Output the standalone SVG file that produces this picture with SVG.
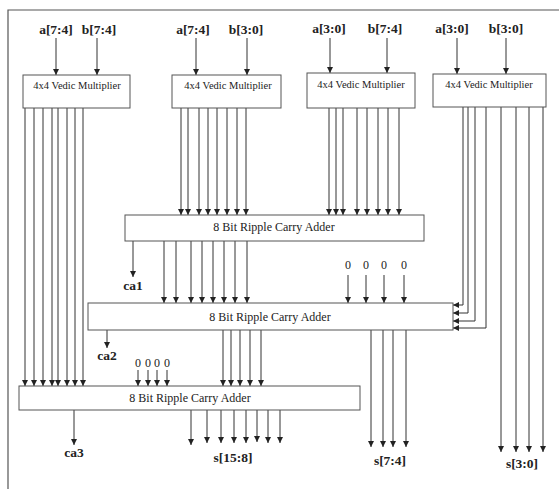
<svg xmlns="http://www.w3.org/2000/svg" width="559" height="489" viewBox="0 0 559 489">
<defs>
<marker id="ah" viewBox="0 0 6 6" refX="6" refY="3" markerWidth="6" markerHeight="6" markerUnits="userSpaceOnUse" orient="auto">
<path d="M0,0 L6,3 L0,6 Z" fill="#222"/>
</marker>
<style>
.box{fill:#fff;stroke:#555;stroke-width:1}
.w{fill:none;stroke:#333;stroke-width:1}
.a{fill:none;stroke:#333;stroke-width:1;marker-end:url(#ah)}
text{font-family:'Liberation Serif','DejaVu Serif','Times New Roman',serif;fill:#222;text-anchor:middle}
.lb{font-size:13.5px;font-weight:bold}
.mt{font-size:10.5px}
.at{font-size:12px}
.z{font-size:12px}
</style>
</defs>
<rect width="559" height="489" fill="#fff"/>
<path d="M8,489 V10 H559" fill="none" stroke="#555" stroke-width="1.2"/>

<g id="connectors">
<path class="a" d="M56,38 V75"/><path class="a" d="M97,38 V75"/>
<path class="a" d="M196,38 V75"/><path class="a" d="M247,38 V75"/>
<path class="a" d="M330,38 V73"/><path class="a" d="M387,38 V73"/>
<path class="a" d="M457,38 V74"/><path class="a" d="M506,38 V74"/>
<path class="a" d="M25,108 V386"/><path class="a" d="M34,108 V386"/><path class="a" d="M43,108 V386"/><path class="a" d="M52,108 V386"/>
<path class="a" d="M58,108 V386"/><path class="a" d="M67,108 V386"/><path class="a" d="M75,108 V386"/><path class="a" d="M83,108 V386"/>
<path class="a" d="M181,108 V215"/><path class="a" d="M188,108 V215"/><path class="a" d="M199,108 V215"/><path class="a" d="M208,108 V215"/>
<path class="a" d="M217,108 V215"/><path class="a" d="M227,108 V215"/><path class="a" d="M237,108 V215"/><path class="a" d="M246,108 V215"/>
<path class="a" d="M329,108 V215"/><path class="a" d="M336,108 V215"/><path class="a" d="M343,108 V215"/><path class="a" d="M357,108 V215"/>
<path class="a" d="M367,108 V215"/><path class="a" d="M378,108 V215"/><path class="a" d="M388,108 V215"/><path class="a" d="M399,108 V215"/>
<path class="a" d="M133,241 V277"/>
<path class="a" d="M164,241 V303"/><path class="a" d="M176,241 V303"/><path class="a" d="M191,241 V303"/><path class="a" d="M202,241 V303"/>
<path class="a" d="M213,241 V303"/><path class="a" d="M224,241 V303"/><path class="a" d="M235,241 V303"/><path class="a" d="M247,241 V303"/>
<path class="a" d="M348,275 V303"/><path class="a" d="M366,275 V303"/><path class="a" d="M384,275 V303"/><path class="a" d="M404,275 V303"/>
<path class="a" d="M463,107 V305 H453"/><path class="a" d="M468,107 V313 H453"/><path class="a" d="M475,107 V321 H453"/><path class="a" d="M486,107 V328 H453"/>
<path class="a" d="M501,107 V452"/><path class="a" d="M516,107 V452"/><path class="a" d="M529,107 V452"/><path class="a" d="M543,107 V452"/>
<path class="a" d="M107,330 V348"/>
<path class="a" d="M223,330 V386"/><path class="a" d="M231,330 V386"/><path class="a" d="M240,330 V386"/><path class="a" d="M250,330 V386"/><path class="a" d="M261,330 V386"/>
<path class="a" d="M371,330 V447"/><path class="a" d="M383,330 V447"/><path class="a" d="M393,330 V447"/><path class="a" d="M406,330 V447"/>
<path class="a" d="M138,370 V386"/><path class="a" d="M148,370 V386"/><path class="a" d="M157,370 V386"/><path class="a" d="M167,370 V386"/>
<path class="a" d="M74,410 V445"/>
<path class="a" d="M191,410 V445"/><path class="a" d="M207,410 V443"/><path class="a" d="M221,410 V443"/><path class="a" d="M234,410 V443"/>
<path class="a" d="M246,410 V443"/><path class="a" d="M257,410 V442"/><path class="a" d="M268,410 V443"/><path class="a" d="M280,410 V443"/>
</g>

<g id="mult1"><rect class="box" x="23" y="75" width="107" height="33"/><text class="mt" x="77" y="89">4x4 Vedic Multiplier</text></g>
<g id="mult2"><rect class="box" x="172" y="75" width="109" height="33"/><text class="mt" x="228" y="89">4x4 Vedic Multiplier</text></g>
<g id="mult3"><rect class="box" x="307" y="73" width="108" height="35"/><text class="mt" x="361" y="88">4x4 Vedic Multiplier</text></g>
<g id="mult4"><rect class="box" x="433" y="74" width="113" height="33"/><text class="mt" x="489" y="88">4x4 Vedic Multiplier</text></g>

<g id="adder1"><rect class="box" x="125" y="215" width="299" height="26"/><text class="at" x="274" y="231">8 Bit Ripple Carry Adder</text></g>
<g id="adder2"><rect class="box" x="88" y="303" width="365" height="27"/><text class="at" x="270" y="321">8 Bit Ripple Carry Adder</text></g>
<g id="adder3"><rect class="box" x="19" y="386" width="341" height="24"/><text class="at" x="190" y="402">8 Bit Ripple Carry Adder</text></g>

<g id="labels">
<text class="lb" x="56" y="34">a[7:4]</text><text class="lb" x="99" y="34">b[7:4]</text>
<text class="lb" x="193" y="34">a[7:4]</text><text class="lb" x="246" y="34">b[3:0]</text>
<text class="lb" x="329" y="33">a[3:0]</text><text class="lb" x="385" y="33">b[7:4]</text>
<text class="lb" x="452" y="33">a[3:0]</text><text class="lb" x="506" y="33">b[3:0]</text>
<text class="lb" x="133" y="290">ca1</text>
<text class="lb" x="107" y="360">ca2</text>
<text class="lb" x="74" y="457">ca3</text>
<text class="lb" x="233" y="462">s[15:8]</text>
<text class="lb" x="390" y="465">s[7:4]</text>
<text class="lb" x="522" y="468">s[3:0]</text>
<text class="z" x="348" y="269">0</text><text class="z" x="366" y="269">0</text><text class="z" x="384" y="269">0</text><text class="z" x="404" y="269">0</text>
<text class="z" x="138" y="367">0</text><text class="z" x="148" y="367">0</text><text class="z" x="157" y="367">0</text><text class="z" x="167" y="367">0</text>
</g>
</svg>
